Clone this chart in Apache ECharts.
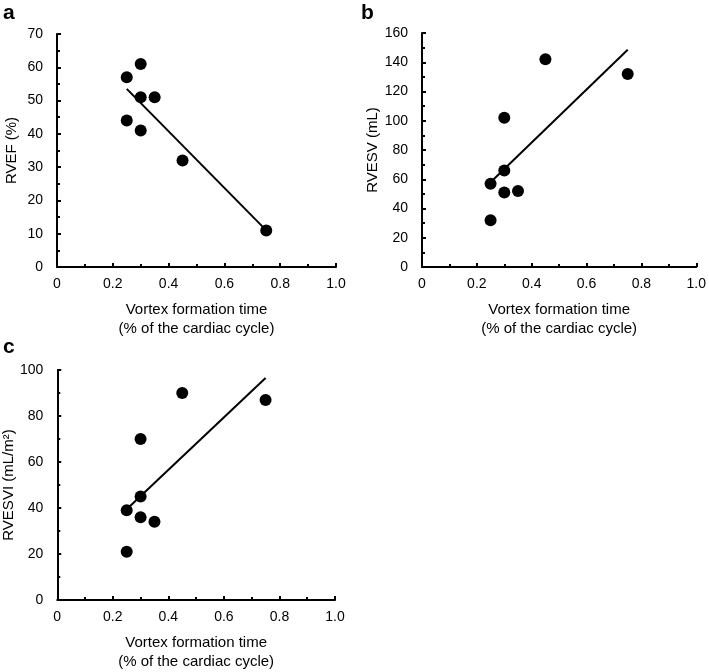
<!DOCTYPE html>
<html><head><meta charset="utf-8">
<script src="https://cdn.jsdelivr.net/npm/echarts@6/dist/echarts.min.js"></script>
<style>html,body{margin:0;padding:0;background:#fff}#c{width:709px;height:672px}</style>
</head><body><div id="c"></div>
<script>
// Panel a: RVEF
const vftA = [0.25, 0.30, 0.30, 0.35, 0.25, 0.30, 0.45, 0.75];
const rvefA = [57, 61, 51, 51, 44, 41, 32, 11];
const trendA = [[0.25, 53.5], [0.75, 11]];
// Panel b: RVESV
const vftB = [0.45, 0.30, 0.30, 0.25, 0.30, 0.35, 0.25, 0.75];
const rvesvB = [142, 102, 66, 57, 51, 52, 32, 132];
const trendB = [[0.25, 58], [0.75, 148.5]];
// Panel c: RVESVI
const vftC = [0.45, 0.30, 0.30, 0.25, 0.30, 0.35, 0.25, 0.75];
const rvesviC = [90, 70, 45, 39, 36, 34, 21, 87];
const trendC = [[0.25, 39.5], [0.75, 96.5]];

const xTitle = 'Vortex formation time\n(% of the cardiac cycle)';
const yTitles = ['RVEF (%)', 'RVESV (mL)', 'RVESVI (mL/m²)'];
const yMax = [70, 160, 100];
const yInt = [10, 20, 20];
const panelLabels = ['a', 'b', 'c'];

const FONT = '"Liberation Sans", Arial, sans-serif';
const grids = [
  {left: 57, top: 34, width: 279, height: 233},
  {left: 422, top: 33, width: 278, height: 234},
  {left: 57, top: 370, width: 278, height: 232}
];
const axisLine = {lineStyle: {color: '#000', width: 2}};
function xAxis(i) {
  return {
    gridIndex: i, type: 'value', min: 0, max: 1, interval: 0.2,
    axisLine: {onZero: false, ...axisLine},
    axisTick: {inside: true, length: 4, lineStyle: {color: '#000', width: 2}},
    minorTick: {show: true, splitNumber: 2, length: 3, lineStyle: {color: '#000', width: 2}},
    splitLine: {show: false},
    axisLabel: {color: '#000', fontSize: 14, fontFamily: FONT, margin: 10,
      formatter: v => v === 0 ? '0' : v.toFixed(1)},
    name: xTitle, nameLocation: 'middle', nameGap: 33,
    nameTextStyle: {color: '#000', fontSize: 15, fontFamily: FONT, lineHeight: 19}
  };
}
function yAxis(i) {
  return {
    gridIndex: i, type: 'value', min: 0, max: yMax[i], interval: yInt[i],
    axisLine: {show: true, onZero: false, ...axisLine},
    axisTick: {show: true, inside: true, length: 4, lineStyle: {color: '#000', width: 2}},
    minorTick: {show: true, splitNumber: 2, length: 3, lineStyle: {color: '#000', width: 2}},
    splitLine: {show: false},
    axisLabel: {color: '#000', fontSize: 14, fontFamily: FONT, margin: 14},
    name: yTitles[i], nameLocation: 'middle', nameGap: 38,
    nameTextStyle: {color: '#000', fontSize: 15, fontFamily: FONT}
  };
}
const xs = [vftA, vftB, vftC];
const ys = [rvefA, rvesvB, rvesviC];
const trends = [trendA, trendB, trendC];
const series = [];
for (let i = 0; i < 3; i++) {
  series.push({type: 'line', xAxisIndex: i, yAxisIndex: i, data: trends[i],
    symbol: 'none', lineStyle: {color: '#000', width: 2}, z: 2, silent: true});
  series.push({type: 'scatter', xAxisIndex: i, yAxisIndex: i,
    data: xs[i].map((x, k) => [x, ys[i][k]]),
    symbol: 'circle', symbolSize: 12, itemStyle: {color: '#000', opacity: 1}, z: 3});
}
const labelPos = [[3, 3], [361, 3], [3, 337]];
const chart = echarts.init(document.getElementById('c'));
chart.setOption({
  animation: false,
  grid: grids,
  xAxis: [0, 1, 2].map(xAxis),
  yAxis: [0, 1, 2].map(yAxis),
  series: series,
  graphic: panelLabels.map((t, i) => ({type: 'text', left: labelPos[i][0], top: labelPos[i][1],
    style: {text: t, fontSize: 21, fontWeight: 'bold', fontFamily: FONT, fill: '#000'}}))
});
</script></body></html>
